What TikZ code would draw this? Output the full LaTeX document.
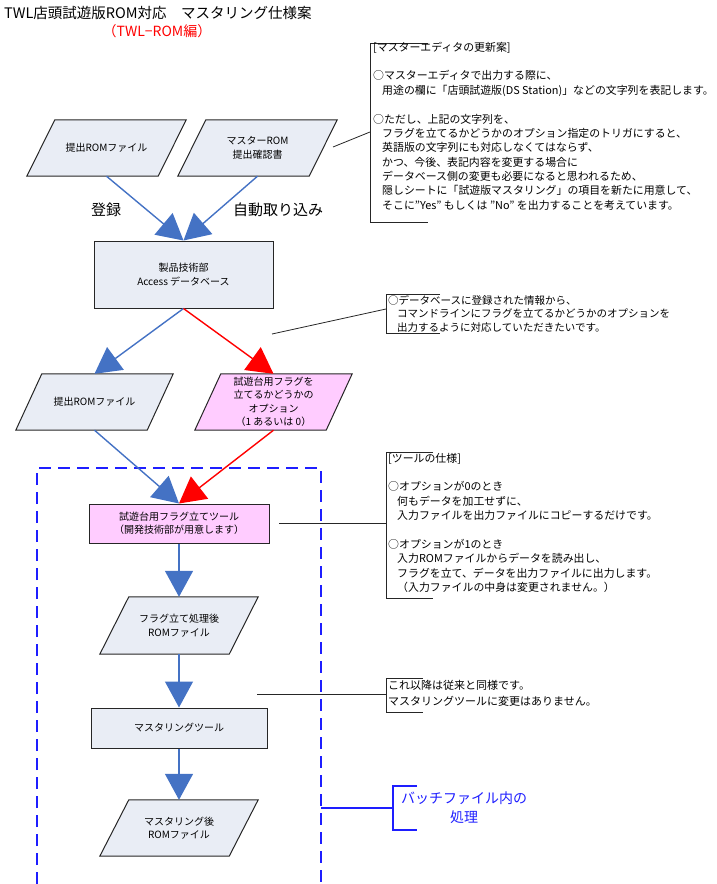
\documentclass[tikz,border=0pt]{standalone}
\usepackage{fontspec}
\setmainfont{Noto Sans CJK JP}
\usetikzlibrary{arrows.meta,calc}
\pgfdeclarelayer{bg}
\pgfsetlayers{bg,main}
\definecolor{nodefill}{HTML}{E9EDF5}
\definecolor{pinkfill}{HTML}{FFCCFF}
\definecolor{arrblue}{HTML}{4472C4}
\definecolor{arrred}{HTML}{FF0000}
\definecolor{dashblue}{HTML}{1E1EFF}
\newcommand\myNodeFont{\fontsize{10}{13.5}\selectfont}
\newcommand\myCallFont{\fontsize{10.9}{14.35}\selectfont}
\newcommand\myBigFont{\fontsize{15}{18}\selectfont}
\newcommand\myInd{\hspace*{9pt}}
\newcommand\drawPara[3]{%
  \begin{pgfonlayer}{bg}
  \filldraw[parashape,fill=#2] (#1.south west) -- ([xshift=-#3pt]#1.south east) -- (#1.north east) -- ([xshift=#3pt]#1.north west) -- cycle;
  \end{pgfonlayer}}
\tikzset{
  boxnode/.style={draw=black!85, line width=1pt, fill=nodefill, font=\myNodeFont, align=center, inner sep=0pt},
  paranode/.style={font=\myNodeFont, align=center, inner sep=0pt},
  parashape/.style={draw=black!85, line width=1pt},
  barrow/.style={draw=arrblue, line width=1.4pt, -{Triangle[length=26pt,width=28pt]}},
  rarrow/.style={draw=arrred, line width=1.4pt, -{Triangle[length=26pt,width=28pt]}},
  leader/.style={draw=black!85, line width=0.8pt},
  bracket/.style={draw=black!85, line width=0.8pt},
  ctext/.style={anchor=north west, inner sep=0pt, align=left, font=\myCallFont},
  bigtext/.style={font=\myBigFont, inner sep=0pt},
}
\begin{document}
\begin{tikzpicture}[x=1pt,y=-1pt]
\useasboundingbox (0,0) rectangle (717,884);

% title
\node[anchor=west, inner sep=0pt, font=\fontsize{14.5}{17}\selectfont] (title) at (4,12.5) {TWL店頭試遊版ROM対応　マスタリング仕様案};
\node[inner sep=0pt, text=arrred, font=\fontsize{14}{17}\selectfont] (subtitle) at (157,31) {（TWL−ROM編）};

% top inputs
\node[paranode, minimum width=159pt, minimum height=56pt] (p1) at (106.5,148) {提出ROMファイル};
\drawPara{p1}{nodefill}{28}
\node[paranode, minimum width=159pt, minimum height=56pt] (p2) at (257.5,148) {マスターROM\\提出確認書};
\drawPara{p2}{nodefill}{28}

\node[boxnode, minimum width=179pt, minimum height=67pt] (db) at (183.5,274.5) {製品技術部\\Access データベース};

\draw[barrow] (p1.south) -- (db.north);
\draw[barrow] (p2.south) -- (db.north);
\node[bigtext] (lbl1) at (106,210) {登録};
\node[bigtext] (lbl2) at (278,210) {自動取り込み};

% second level
\node[paranode, minimum width=157pt, minimum height=56pt] (p3) at (94.5,402) {提出ROMファイル};
\drawPara{p3}{nodefill}{26}
\node[paranode, minimum width=157pt, minimum height=56pt] (p4) at (273.5,402) {試遊台用フラグを\\立てるかどうかの\\オプション\\（1 あるいは 0）};
\drawPara{p4}{pinkfill}{26}

\draw[barrow] (db.south) -- (p3.north);
\draw[rarrow] (db.south) -- (p4.north);

% batch area
\draw[dashblue, line width=1.6pt, dash pattern=on 12pt off 7pt] (37,884) -- (37,468) -- (321,468) -- (321,884);

\node[boxnode, fill=pinkfill, minimum width=180pt, minimum height=39pt] (tool) at (179,523.5) {試遊台用フラグ立てツール\\（開発技術部が用意します）};
\draw[barrow] (p3.south) -- (tool.north);
\draw[rarrow] (p4.south) -- (tool.north);

\node[paranode, minimum width=158pt, minimum height=57pt] (p5) at (179,625.5) {フラグ立て処理後\\ROMファイル};
\drawPara{p5}{nodefill}{29}
\draw[barrow] (tool.south) -- (p5.north);

\node[boxnode, minimum width=176pt, minimum height=40pt] (mtool) at (179,728) {マスタリングツール};
\draw[barrow] (p5.south) -- (mtool.north);

\node[paranode, minimum width=158pt, minimum height=56pt] (p6) at (179,828) {マスタリング後\\ROMファイル};
\drawPara{p6}{nodefill}{29}
\draw[barrow] (mtool.south) -- (p6.north);

% batch label
\coordinate (bA) at (321,808);
\coordinate (bB) at (393,808);
\draw[dashblue, line width=1.5pt] (bA) -- (bB);
\draw[dashblue, line width=1.5pt] (417,786) -- (393,786) -- (393,830) -- (417,830);
\node[inner sep=0pt, align=center, text=dashblue, font=\fontsize{14}{18.5}\selectfont] (batch) at (464,807.5) {バッチファイル内の\\処理};

% callout 1
\draw[bracket] (428,43) -- (370,43) -- (370,222) -- (428,222);
\coordinate (l1a) at (333,147);
\coordinate (l1b) at (370,132);
\draw[leader] (l1a) -- (l1b);
\node[ctext] (c1) at (373,41) {\strut[マスターエディタの更新案]\\
\strut\\
\strut○マスターエディタで出力する際に、\\
\strut\myInd 用途の欄に「店頭試遊版(DS Station)」などの文字列を表記します。\\
\strut\\
\strut○ただし、上記の文字列を、\\
\strut\myInd フラグを立てるかどうかのオプション指定のトリガにすると、\\
\strut\myInd 英語版の文字列にも対応しなくてはならず、\\
\strut\myInd かつ、今後、表記内容を変更する場合に\\
\strut\myInd データベース側の変更も必要になると思われるため、\\
\strut\myInd 隠しシートに「試遊版マスタリング」の項目を新たに用意して、\\
\strut\myInd そこに"Yes" もしくは "No" を出力することを考えています。};

% callout 2
\draw[bracket] (440,294) -- (386,294) -- (386,333) -- (440,333);
\coordinate (l2a) at (272,334);
\coordinate (l2b) at (386,309);
\draw[leader] (l2a) -- (l2b);
\node[ctext, font=\fontsize{10.5}{13.5}\selectfont] (c2) at (388,294.5) {\strut○データベースに登録された情報から、\\
\strut\myInd コマンドラインにフラグを立てるかどうかのオプションを\\
\strut\myInd 出力するように対応していただきたいです。};

% callout 3
\draw[bracket] (433,452) -- (386,452) -- (386,598) -- (433,598);
\coordinate (l3a) at (279,523);
\coordinate (l3b) at (386,523);
\draw[leader] (l3a) -- (l3b);
\node[ctext] (c3) at (388,452) {\strut[ツールの仕様]\\
\strut\\
\strut○オプションが0のとき\\
\strut\myInd 何もデータを加工せずに、\\
\strut\myInd 入力ファイルを出力ファイルにコピーするだけです。\\
\strut\\
\strut○オプションが1のとき\\
\strut\myInd 入力ROMファイルからデータを読み出し、\\
\strut\myInd フラグを立て、データを出力ファイルに出力します。\\
\strut\myInd （入力ファイルの中身は変更されません。）};

% callout 4
\draw[bracket] (423,678) -- (386,678) -- (386,712) -- (423,712);
\coordinate (l4a) at (257,694);
\coordinate (l4b) at (386,694);
\draw[leader] (l4a) -- (l4b);
\node[ctext, font=\fontsize{11}{16}\selectfont] (c4) at (388,678) {\strut これ以降は従来と同様です。\\
\strut マスタリングツールに変更はありません。};
\end{tikzpicture}
\end{document}
